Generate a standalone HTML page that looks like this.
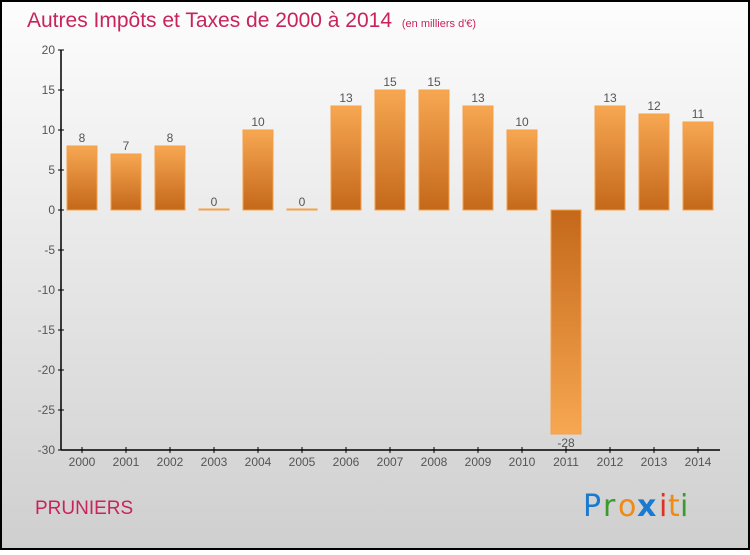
<!DOCTYPE html>
<html><head><meta charset="utf-8"><style>
body{margin:0;width:750px;height:550px;overflow:hidden;font-family:"Liberation Sans",sans-serif}
</style></head><body>
<svg id="chart" width="750" height="550" xmlns="http://www.w3.org/2000/svg">
<defs>
<linearGradient id="bg" x1="0" y1="0" x2="0" y2="1"><stop offset="0" stop-color="#fdfdfd"/><stop offset="1" stop-color="#cfcfcf"/></linearGradient>
<linearGradient id="pos" x1="0" y1="0" x2="0" y2="1"><stop offset="0" stop-color="#f7a752"/><stop offset="1" stop-color="#c4681a"/></linearGradient>
<linearGradient id="neg" x1="0" y1="0" x2="0" y2="1"><stop offset="0" stop-color="#c4681a"/><stop offset="1" stop-color="#f7a752"/></linearGradient>
</defs>
<rect x="1" y="1" width="748" height="548" fill="url(#bg)" stroke="#000" stroke-width="2"/>
<text x="27" y="27" font-size="21" fill="#c8245a">Autres Impôts et Taxes de 2000 à 2014 <tspan font-size="11" dx="4">(en milliers d'€)</tspan></text>
<text x="35" y="514" font-size="19" fill="#c8245a">PRUNIERS</text>
<g font-size="30" font-family="'DejaVu Sans',sans-serif">
<text x="583" y="516" fill="#1a7ad0">P</text><text x="603" y="516" fill="#3a9a30">r</text><text x="618" y="516" fill="#f08a10">o</text><text x="637" y="516" fill="#1a7ad0" font-weight="bold">x</text><text x="659" y="516" fill="#e03020">i</text><text x="668" y="516" fill="#f08a10">t</text><text x="680" y="516" fill="#3a9a30">i</text>
</g>
<g id="bars"></g><g id="axes"></g>
</svg>
<script>
const years=["2000","2001","2002","2003","2004","2005","2006","2007","2008","2009","2010","2011","2012","2013","2014"];
const values=[8,7,8,0,10,0,13,15,15,13,10,-28,13,12,11];
const yTicks=[20,15,10,5,0,-5,-10,-15,-20,-25,-30];
const NS="http://www.w3.org/2000/svg";
const y=v=>210-v*8;
const x=i=>82+i*44;
function mk(t,a,p){const e=document.createElementNS(NS,t);for(const k in a)e.setAttribute(k,a[k]);p.appendChild(e);return e;}
const bars=document.getElementById('bars'),axes=document.getElementById('axes');
values.forEach((v,i)=>{
  const top=Math.min(y(v),y(0)),h=Math.max(Math.abs(y(v)-y(0)),1);
  const r=mk('rect',{x:x(i)-15,y:v===0?y(0)-1:top,width:30,height:h,fill:v<0?'url(#neg)':'url(#pos)',stroke:'#f5a04a','stroke-width':1},bars);
  
  
  const t=mk('text',{x:x(i),y:v<0?y(v)+13:y(v)-4,'text-anchor':'middle','font-size':12,fill:'#555'},bars);
  t.textContent=v;
  
  
  const xl=mk('text',{x:x(i),y:466,'text-anchor':'middle','font-size':12,fill:'#555'},axes);
  xl.textContent=years[i];
  
  
  mk('line',{x1:x(i),x2:x(i),y1:447,y2:453,stroke:'#000'},axes);
});
yTicks.forEach(v=>{
  mk('line',{x1:58,x2:64,y1:y(v),y2:y(v),stroke:'#000'},axes);
  const t=mk('text',{x:55,y:y(v)+4,'text-anchor':'end','font-size':12,fill:'#555'},axes);
  t.textContent=v;
  
  
});
const ya=mk('line',{x1:61,x2:61,y1:y(20),y2:y(-30),stroke:'#000','stroke-width':1.5},axes);


const xa=mk('line',{x1:61,x2:720,y1:450,y2:450,stroke:'#000','stroke-width':1.5},axes);


</script>
</body></html>
